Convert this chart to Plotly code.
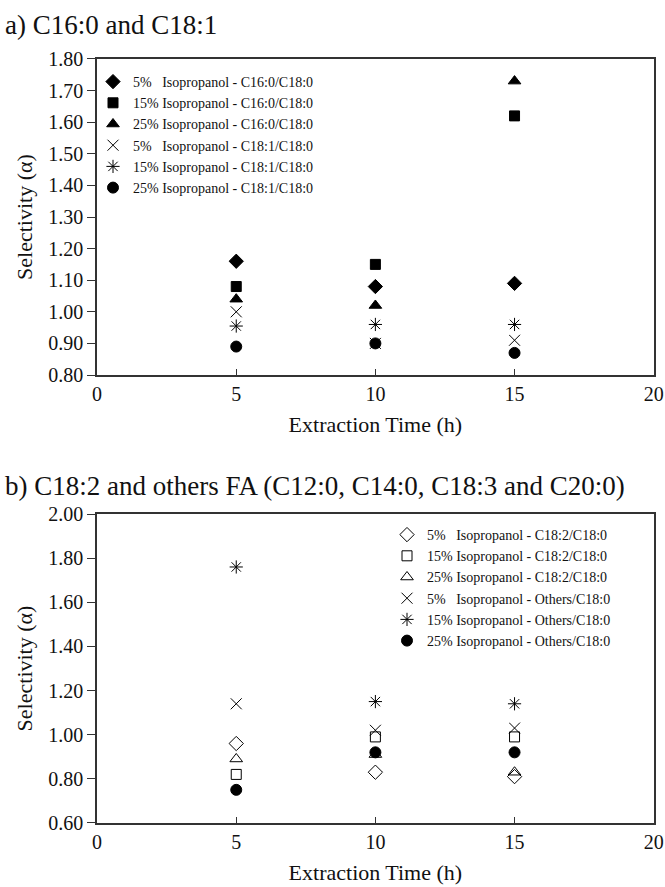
import plotly.graph_objects as go

times = [5, 10, 15]

# Panel a) C16:0 and C18:1
a_names = [
    "5%\u00a0\u00a0\u00a0Isopropanol - C16:0/C18:0",
    "15% Isopropanol - C16:0/C18:0",
    "25% Isopropanol - C16:0/C18:0",
    "5%\u00a0\u00a0\u00a0Isopropanol - C18:1/C18:0",
    "15% Isopropanol - C18:1/C18:0",
    "25% Isopropanol - C18:1/C18:0",
]
a_c16_5 = [1.16, 1.08, 1.09]
a_c16_15 = [1.08, 1.15, 1.62]
a_c16_25 = [1.04, 1.02, 1.73]
a_c181_5 = [1.00, 0.90, 0.91]
a_c181_15 = [0.955, 0.96, 0.96]
a_c181_25 = [0.89, 0.90, 0.87]
a_values = [a_c16_5, a_c16_15, a_c16_25, a_c181_5, a_c181_15, a_c181_25]
a_symbols = ["diamond", "square", "triangle-up", "x-thin-open", "asterisk-open", "circle"]

# Panel b) C18:2 and others FA
b_names = [
    "5%\u00a0\u00a0\u00a0Isopropanol - C18:2/C18:0",
    "15% Isopropanol - C18:2/C18:0",
    "25% Isopropanol - C18:2/C18:0",
    "5%\u00a0\u00a0\u00a0Isopropanol - Others/C18:0",
    "15% Isopropanol - Others/C18:0",
    "25% Isopropanol - Others/C18:0",
]
b_c182_5 = [0.96, 0.83, 0.81]
b_c182_15 = [0.82, 0.99, 0.99]
b_c182_25 = [0.89, 0.91, 0.83]
b_oth_5 = [1.14, 1.02, 1.03]
b_oth_15 = [1.76, 1.15, 1.14]
b_oth_25 = [0.75, 0.92, 0.92]
b_values = [b_c182_5, b_c182_15, b_c182_25, b_oth_5, b_oth_15, b_oth_25]
b_symbols = ["diamond-open", "square-open", "triangle-up-open", "x-thin-open", "asterisk-open", "circle"]

FONT = "Liberation Serif"
fig = go.Figure()

def add(names, values, symbols, xa, ya, leg):
    for n, v, s in zip(names, values, symbols):
        size = 10 if s.startswith("square") else 11
        fig.add_trace(go.Scatter(
            x=times, y=v, mode="markers", name=n, xaxis=xa, yaxis=ya,
            legend=leg,
            marker=dict(symbol=s, size=size, color="black",
                        line=dict(color="black", width=1)),
        ))

add(a_names, a_values, a_symbols, "x", "y", "legend")
add(b_names, b_values, b_symbols, "x2", "y2", "legend2")

axis_common = dict(showline=True, linecolor="#333", linewidth=1.5, mirror=True,
                   showgrid=False, zeroline=False, automargin=False,
                   tickfont=dict(family=FONT, size=20, color="#111"))
title_font = dict(family=FONT, size=22, color="#111")

fig.update_layout(
    width=665, height=887, margin=dict(l=0, r=0, t=0, b=0, autoexpand=False),
    paper_bgcolor="white", plot_bgcolor="white",
    font=dict(family=FONT, color="#111"),
    xaxis=dict(domain=[0.146, 0.983], anchor="y", range=[0, 20], dtick=5,
               ticks="inside", ticklen=6, tickcolor="#333",
               title=dict(text="Extraction Time (h)", font=title_font, standoff=13),
               **axis_common),
    yaxis=dict(domain=[0.5772, 0.9335], anchor="x", range=[0.80, 1.80], dtick=0.1,
               tickformat=".2f", ticks="outside", ticklen=8, tickcolor="#333",
               title=dict(text="Selectivity (α)", font=title_font, standoff=10),
               **axis_common),
    xaxis2=dict(domain=[0.146, 0.983], anchor="y2", range=[0, 20], dtick=5,
                ticks="inside", ticklen=6, tickcolor="#333",
                title=dict(text="Extraction Time (h)", font=title_font, standoff=13),
                **axis_common),
    yaxis2=dict(domain=[0.0722, 0.4205], anchor="x2", range=[0.60, 2.00], dtick=0.2,
                tickformat=".2f", ticks="outside", ticklen=8, tickcolor="#333",
                title=dict(text="Selectivity (α)", font=title_font, standoff=10),
                **axis_common),
    legend=dict(x=93 / 665, y=1 - 66 / 887, xanchor="left", yanchor="top",
                bgcolor="rgba(0,0,0,0)", itemsizing="trace",
                font=dict(family=FONT, size=14, color="#111")),
    legend2=dict(x=387 / 665, y=1 - 519 / 887, xanchor="left", yanchor="top",
                 bgcolor="rgba(0,0,0,0)", itemsizing="trace",
                 font=dict(family=FONT, size=14, color="#111")),
    annotations=[
        dict(text="a) C16:0 and C18:1", x=0.005, y=1 - 25 / 887, xref="paper", yref="paper",
             xanchor="left", yanchor="middle", showarrow=False,
             font=dict(family=FONT, size=27, color="#111")),
        dict(text="b) C18:2 and others FA (C12:0, C14:0, C18:3 and C20:0)", x=0.005,
             y=1 - 486 / 887, xref="paper", yref="paper",
             xanchor="left", yanchor="middle", showarrow=False,
             font=dict(family=FONT, size=27, color="#111")),
    ],
)

fig.write_html("out.html")
